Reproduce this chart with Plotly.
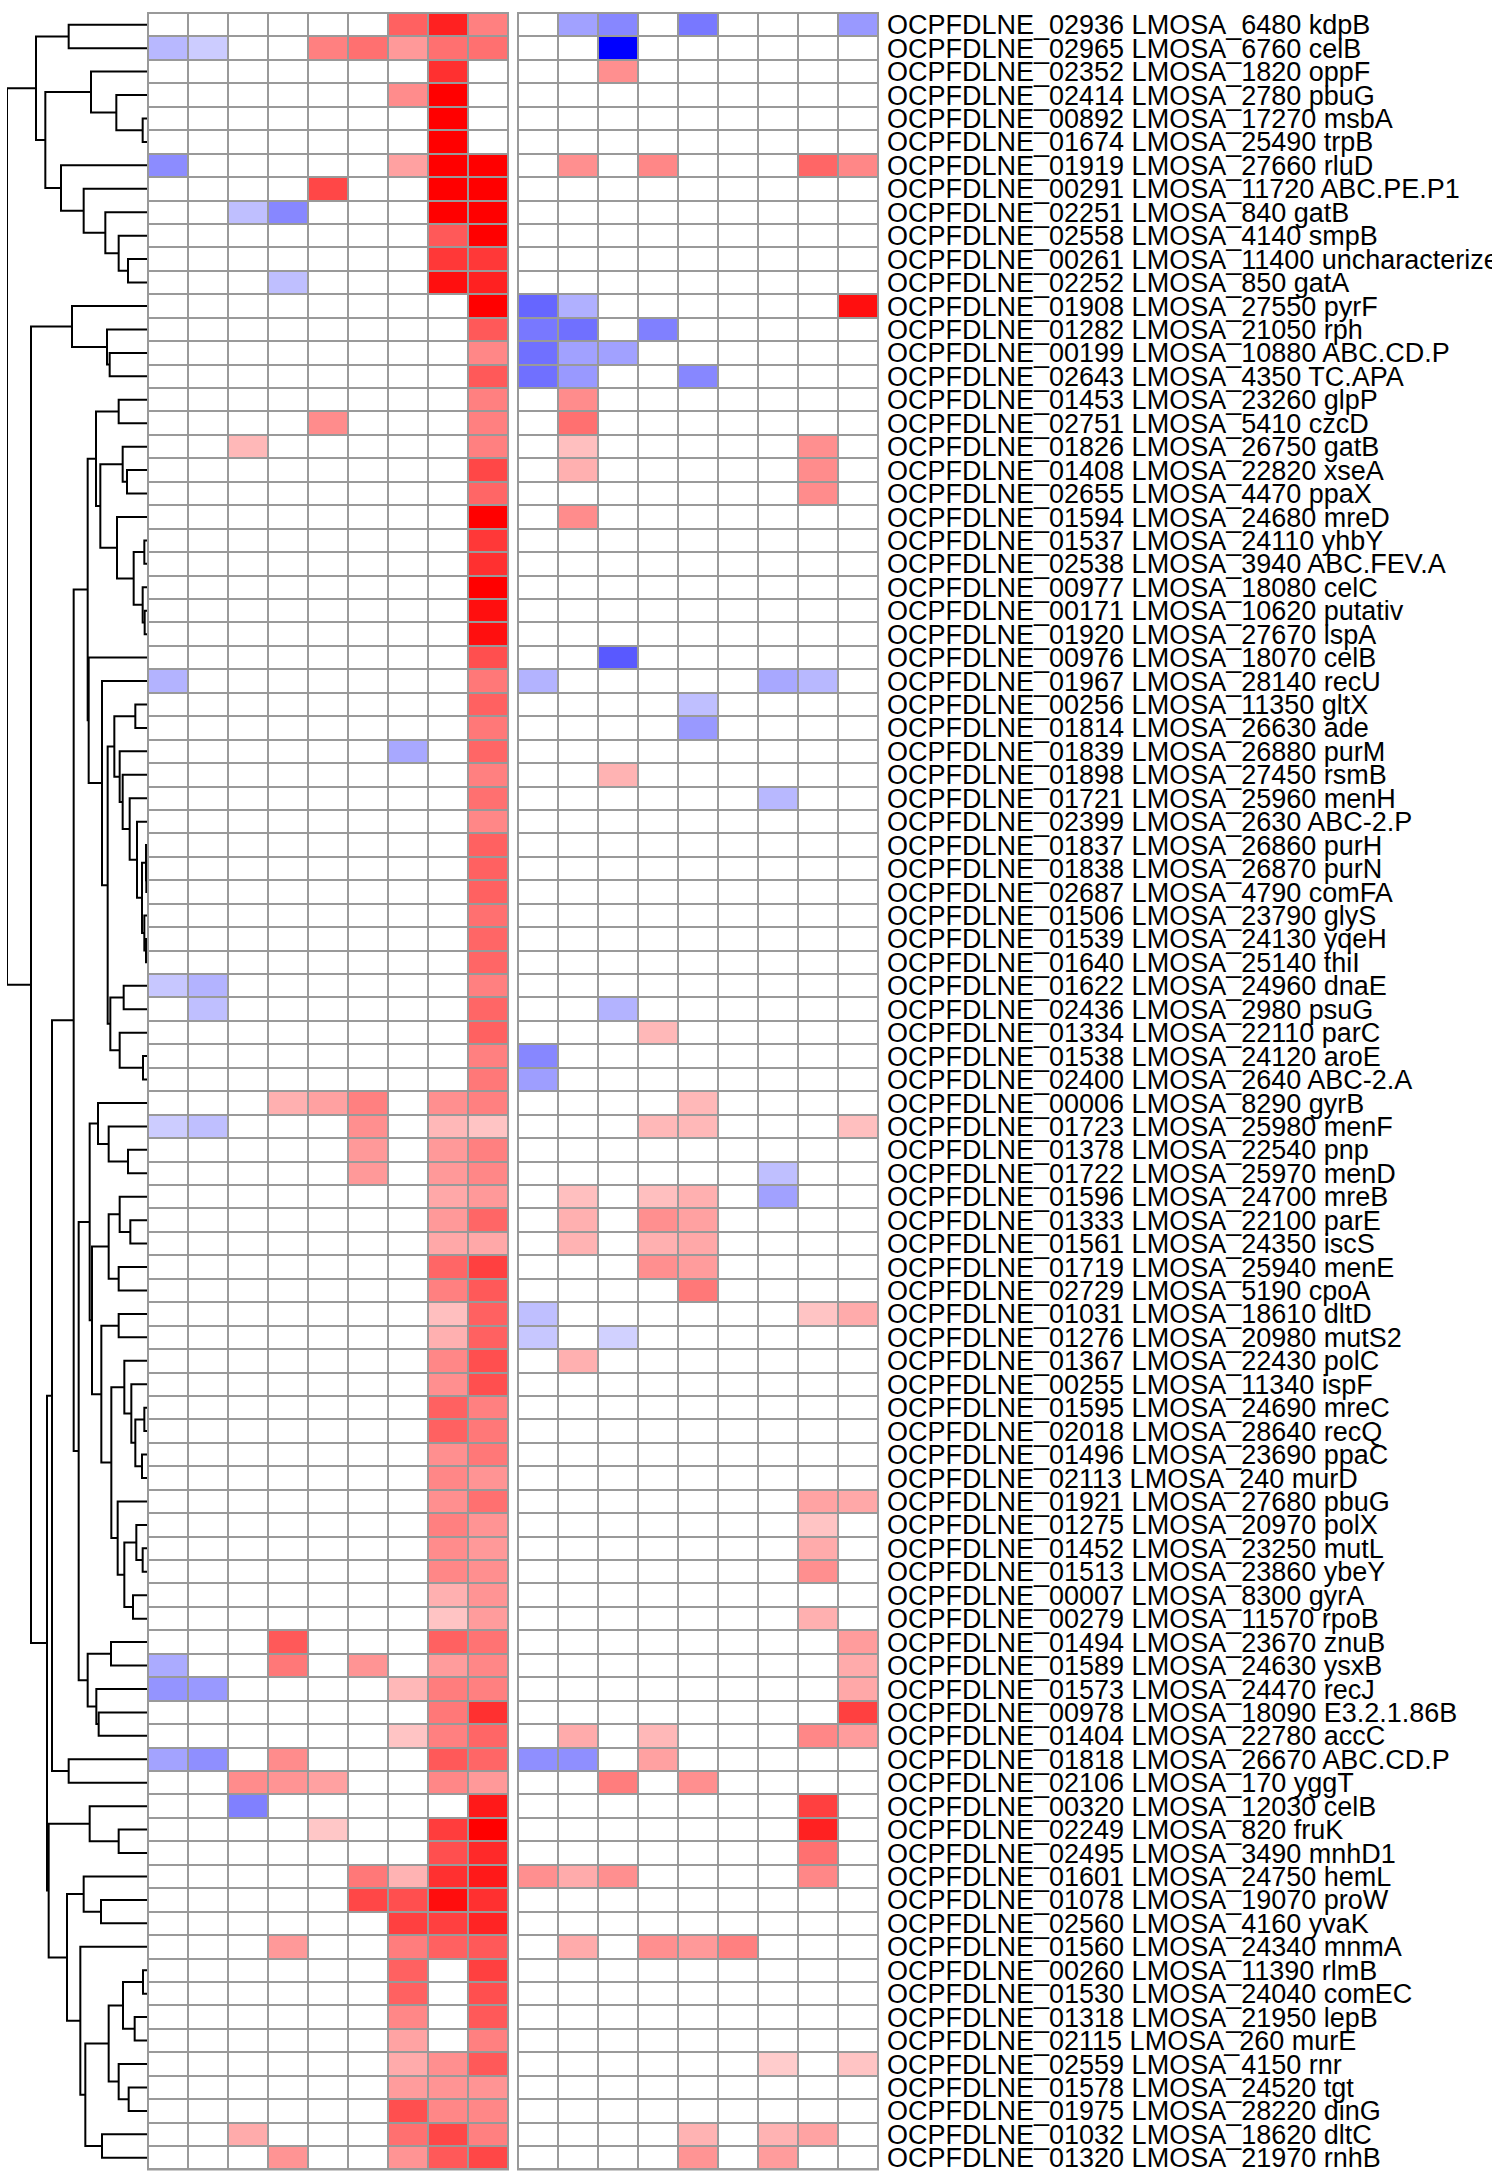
import plotly.graph_objects as go

# ---------------- data ----------------
row_labels = [
    "OCPFDLNE_02936 LMOSA_6480 kdpB", "OCPFDLNE_02965 LMOSA_6760 celB", "OCPFDLNE_02352 LMOSA_1820 oppF",
    "OCPFDLNE_02414 LMOSA_2780 pbuG", "OCPFDLNE_00892 LMOSA_17270 msbA", "OCPFDLNE_01674 LMOSA_25490 trpB",
    "OCPFDLNE_01919 LMOSA_27660 rluD", "OCPFDLNE_00291 LMOSA_11720 ABC.PE.P1", "OCPFDLNE_02251 LMOSA_840 gatB",
    "OCPFDLNE_02558 LMOSA_4140 smpB", "OCPFDLNE_00261 LMOSA_11400 uncharacterized", "OCPFDLNE_02252 LMOSA_850 gatA",
    "OCPFDLNE_01908 LMOSA_27550 pyrF", "OCPFDLNE_01282 LMOSA_21050 rph", "OCPFDLNE_00199 LMOSA_10880 ABC.CD.P",
    "OCPFDLNE_02643 LMOSA_4350 TC.APA", "OCPFDLNE_01453 LMOSA_23260 glpP", "OCPFDLNE_02751 LMOSA_5410 czcD",
    "OCPFDLNE_01826 LMOSA_26750 gatB", "OCPFDLNE_01408 LMOSA_22820 xseA", "OCPFDLNE_02655 LMOSA_4470 ppaX",
    "OCPFDLNE_01594 LMOSA_24680 mreD", "OCPFDLNE_01537 LMOSA_24110 yhbY", "OCPFDLNE_02538 LMOSA_3940 ABC.FEV.A",
    "OCPFDLNE_00977 LMOSA_18080 celC", "OCPFDLNE_00171 LMOSA_10620 putativ", "OCPFDLNE_01920 LMOSA_27670 lspA",
    "OCPFDLNE_00976 LMOSA_18070 celB", "OCPFDLNE_01967 LMOSA_28140 recU", "OCPFDLNE_00256 LMOSA_11350 gltX",
    "OCPFDLNE_01814 LMOSA_26630 ade", "OCPFDLNE_01839 LMOSA_26880 purM", "OCPFDLNE_01898 LMOSA_27450 rsmB",
    "OCPFDLNE_01721 LMOSA_25960 menH", "OCPFDLNE_02399 LMOSA_2630 ABC-2.P", "OCPFDLNE_01837 LMOSA_26860 purH",
    "OCPFDLNE_01838 LMOSA_26870 purN", "OCPFDLNE_02687 LMOSA_4790 comFA", "OCPFDLNE_01506 LMOSA_23790 glyS",
    "OCPFDLNE_01539 LMOSA_24130 yqeH", "OCPFDLNE_01640 LMOSA_25140 thiI", "OCPFDLNE_01622 LMOSA_24960 dnaE",
    "OCPFDLNE_02436 LMOSA_2980 psuG", "OCPFDLNE_01334 LMOSA_22110 parC", "OCPFDLNE_01538 LMOSA_24120 aroE",
    "OCPFDLNE_02400 LMOSA_2640 ABC-2.A", "OCPFDLNE_00006 LMOSA_8290 gyrB", "OCPFDLNE_01723 LMOSA_25980 menF",
    "OCPFDLNE_01378 LMOSA_22540 pnp", "OCPFDLNE_01722 LMOSA_25970 menD", "OCPFDLNE_01596 LMOSA_24700 mreB",
    "OCPFDLNE_01333 LMOSA_22100 parE", "OCPFDLNE_01561 LMOSA_24350 iscS", "OCPFDLNE_01719 LMOSA_25940 menE",
    "OCPFDLNE_02729 LMOSA_5190 cpoA", "OCPFDLNE_01031 LMOSA_18610 dltD", "OCPFDLNE_01276 LMOSA_20980 mutS2",
    "OCPFDLNE_01367 LMOSA_22430 polC", "OCPFDLNE_00255 LMOSA_11340 ispF", "OCPFDLNE_01595 LMOSA_24690 mreC",
    "OCPFDLNE_02018 LMOSA_28640 recQ", "OCPFDLNE_01496 LMOSA_23690 ppaC", "OCPFDLNE_02113 LMOSA_240 murD",
    "OCPFDLNE_01921 LMOSA_27680 pbuG", "OCPFDLNE_01275 LMOSA_20970 polX", "OCPFDLNE_01452 LMOSA_23250 mutL",
    "OCPFDLNE_01513 LMOSA_23860 ybeY", "OCPFDLNE_00007 LMOSA_8300 gyrA", "OCPFDLNE_00279 LMOSA_11570 rpoB",
    "OCPFDLNE_01494 LMOSA_23670 znuB", "OCPFDLNE_01589 LMOSA_24630 ysxB", "OCPFDLNE_01573 LMOSA_24470 recJ",
    "OCPFDLNE_00978 LMOSA_18090 E3.2.1.86B", "OCPFDLNE_01404 LMOSA_22780 accC", "OCPFDLNE_01818 LMOSA_26670 ABC.CD.P",
    "OCPFDLNE_02106 LMOSA_170 yggT", "OCPFDLNE_00320 LMOSA_12030 celB", "OCPFDLNE_02249 LMOSA_820 fruK",
    "OCPFDLNE_02495 LMOSA_3490 mnhD1", "OCPFDLNE_01601 LMOSA_24750 hemL", "OCPFDLNE_01078 LMOSA_19070 proW",
    "OCPFDLNE_02560 LMOSA_4160 yvaK", "OCPFDLNE_01560 LMOSA_24340 mnmA", "OCPFDLNE_00260 LMOSA_11390 rlmB",
    "OCPFDLNE_01530 LMOSA_24040 comEC", "OCPFDLNE_01318 LMOSA_21950 lepB", "OCPFDLNE_02115 LMOSA_260 murE",
    "OCPFDLNE_02559 LMOSA_4150 rnr", "OCPFDLNE_01578 LMOSA_24520 tgt", "OCPFDLNE_01975 LMOSA_28220 dinG",
    "OCPFDLNE_01032 LMOSA_18620 dltC", "OCPFDLNE_01320 LMOSA_21970 rnhB",
]

left_block = [
    [0, 0, 0, 0, 0, 0, .62, .87, .5],
    [-.28, -.2, 0, 0, .5, .56, .4, .56, .56],
    [0, 0, 0, 0, 0, 0, 0, .81, 0],
    [0, 0, 0, 0, 0, 0, .45, 1, 0],
    [0, 0, 0, 0, 0, 0, 0, 1, 0],
    [0, 0, 0, 0, 0, 0, 0, 1, 0],
    [-.45, 0, 0, 0, 0, 0, .37, 1, 1],
    [0, 0, 0, 0, .72, 0, 0, 1, 1],
    [0, 0, -.25, -.47, 0, 0, 0, 1, 1],
    [0, 0, 0, 0, 0, 0, 0, .65, 1],
    [0, 0, 0, 0, 0, 0, 0, .78, .78],
    [0, 0, 0, -.25, 0, 0, 0, .94, .87],
    [0, 0, 0, 0, 0, 0, 0, 0, 1],
    [0, 0, 0, 0, 0, 0, 0, 0, .65],
    [0, 0, 0, 0, 0, 0, 0, 0, .47],
    [0, 0, 0, 0, 0, 0, 0, 0, .65],
    [0, 0, 0, 0, 0, 0, 0, 0, .5],
    [0, 0, 0, 0, .45, 0, 0, 0, .5],
    [0, 0, .28, 0, 0, 0, 0, 0, .5],
    [0, 0, 0, 0, 0, 0, 0, 0, .72],
    [0, 0, 0, 0, 0, 0, 0, 0, .6],
    [0, 0, 0, 0, 0, 0, 0, 0, 1],
    [0, 0, 0, 0, 0, 0, 0, 0, .78],
    [0, 0, 0, 0, 0, 0, 0, 0, .81],
    [0, 0, 0, 0, 0, 0, 0, 0, 1],
    [0, 0, 0, 0, 0, 0, 0, 0, .94],
    [0, 0, 0, 0, 0, 0, 0, 0, .94],
    [0, 0, 0, 0, 0, 0, 0, 0, .69],
    [-.3, 0, 0, 0, 0, 0, 0, 0, .53],
    [0, 0, 0, 0, 0, 0, 0, 0, .62],
    [0, 0, 0, 0, 0, 0, 0, 0, .53],
    [0, 0, 0, 0, 0, 0, -.34, 0, .6],
    [0, 0, 0, 0, 0, 0, 0, 0, .5],
    [0, 0, 0, 0, 0, 0, 0, 0, .56],
    [0, 0, 0, 0, 0, 0, 0, 0, .47],
    [0, 0, 0, 0, 0, 0, 0, 0, .62],
    [0, 0, 0, 0, 0, 0, 0, 0, .62],
    [0, 0, 0, 0, 0, 0, 0, 0, .62],
    [0, 0, 0, 0, 0, 0, 0, 0, .56],
    [0, 0, 0, 0, 0, 0, 0, 0, .6],
    [0, 0, 0, 0, 0, 0, 0, 0, .6],
    [-.22, -.3, 0, 0, 0, 0, 0, 0, .5],
    [0, -.25, 0, 0, 0, 0, 0, 0, .6],
    [0, 0, 0, 0, 0, 0, 0, 0, .62],
    [0, 0, 0, 0, 0, 0, 0, 0, .5],
    [0, 0, 0, 0, 0, 0, 0, 0, .53],
    [0, 0, 0, .31, .37, .5, 0, .44, .5],
    [-.2, -.25, 0, 0, 0, .44, 0, .28, .23],
    [0, 0, 0, 0, 0, .4, 0, .4, .5],
    [0, 0, 0, 0, 0, .4, 0, .4, .47],
    [0, 0, 0, 0, 0, 0, 0, .34, .4],
    [0, 0, 0, 0, 0, 0, 0, .4, .6],
    [0, 0, 0, 0, 0, 0, 0, .34, .34],
    [0, 0, 0, 0, 0, 0, 0, .6, .75],
    [0, 0, 0, 0, 0, 0, 0, .5, .65],
    [0, 0, 0, 0, 0, 0, 0, .25, .62],
    [0, 0, 0, 0, 0, 0, 0, .31, .62],
    [0, 0, 0, 0, 0, 0, 0, .47, .69],
    [0, 0, 0, 0, 0, 0, 0, .44, .69],
    [0, 0, 0, 0, 0, 0, 0, .62, .5],
    [0, 0, 0, 0, 0, 0, 0, .62, .53],
    [0, 0, 0, 0, 0, 0, 0, .44, .53],
    [0, 0, 0, 0, 0, 0, 0, .47, .42],
    [0, 0, 0, 0, 0, 0, 0, .44, .56],
    [0, 0, 0, 0, 0, 0, 0, .5, .42],
    [0, 0, 0, 0, 0, 0, 0, .45, .4],
    [0, 0, 0, 0, 0, 0, 0, .47, .44],
    [0, 0, 0, 0, 0, 0, 0, .31, .42],
    [0, 0, 0, 0, 0, 0, 0, .23, .39],
    [0, 0, 0, .65, 0, 0, 0, .62, .55],
    [-.33, 0, 0, .53, 0, .42, 0, .39, .47],
    [-.42, -.4, 0, 0, 0, 0, .28, .51, .5],
    [0, 0, 0, 0, 0, 0, 0, .53, .81],
    [0, 0, 0, 0, 0, 0, .23, .5, .6],
    [-.36, -.44, 0, .45, 0, 0, 0, .65, .6],
    [0, 0, .45, .42, .37, 0, 0, .47, .4],
    [0, 0, -.5, 0, 0, 0, 0, 0, .9],
    [0, 0, 0, 0, .22, 0, 0, .76, 1],
    [0, 0, 0, 0, 0, 0, 0, .69, .84],
    [0, 0, 0, 0, 0, .53, .3, .81, .9],
    [0, 0, 0, 0, 0, .72, .69, .95, .81],
    [0, 0, 0, 0, 0, 0, .75, .75, .86],
    [0, 0, 0, .4, 0, 0, .51, .62, .65],
    [0, 0, 0, 0, 0, 0, .62, 0, .75],
    [0, 0, 0, 0, 0, 0, .62, 0, .69],
    [0, 0, 0, 0, 0, 0, .47, 0, .65],
    [0, 0, 0, 0, 0, 0, .36, 0, .5],
    [0, 0, 0, 0, 0, 0, .33, .44, .65],
    [0, 0, 0, 0, 0, 0, .39, .42, .42],
    [0, 0, 0, 0, 0, 0, .69, .47, .47],
    [0, 0, .33, 0, 0, 0, .56, .72, .5],
    [0, 0, 0, .42, 0, 0, .42, .65, .72],
]

right_block = [
    [0, -.37, -.47, 0, -.53, 0, 0, 0, -.4],
    [0, 0, -1, 0, 0, 0, 0, 0, 0],
    [0, 0, .44, 0, 0, 0, 0, 0, 0],
    [0, 0, 0, 0, 0, 0, 0, 0, 0],
    [0, 0, 0, 0, 0, 0, 0, 0, 0],
    [0, 0, 0, 0, 0, 0, 0, 0, 0],
    [0, .44, 0, .47, 0, 0, 0, .6, .47],
    [0, 0, 0, 0, 0, 0, 0, 0, 0],
    [0, 0, 0, 0, 0, 0, 0, 0, 0],
    [0, 0, 0, 0, 0, 0, 0, 0, 0],
    [0, 0, 0, 0, 0, 0, 0, 0, 0],
    [0, 0, 0, 0, 0, 0, 0, 0, 0],
    [-.6, -.31, 0, 0, 0, 0, 0, 0, .94],
    [-.53, -.56, 0, -.5, 0, 0, 0, 0, 0],
    [-.56, -.37, -.37, 0, 0, 0, 0, 0, 0],
    [-.56, -.4, 0, 0, -.47, 0, 0, 0, 0],
    [0, .45, 0, 0, 0, 0, 0, 0, 0],
    [0, .56, 0, 0, 0, 0, 0, 0, 0],
    [0, .25, 0, 0, 0, 0, 0, .44, 0],
    [0, .31, 0, 0, 0, 0, 0, .45, 0],
    [0, 0, 0, 0, 0, 0, 0, .45, 0],
    [0, .45, 0, 0, 0, 0, 0, 0, 0],
    [0, 0, 0, 0, 0, 0, 0, 0, 0],
    [0, 0, 0, 0, 0, 0, 0, 0, 0],
    [0, 0, 0, 0, 0, 0, 0, 0, 0],
    [0, 0, 0, 0, 0, 0, 0, 0, 0],
    [0, 0, 0, 0, 0, 0, 0, 0, 0],
    [0, 0, -.65, 0, 0, 0, 0, 0, 0],
    [-.3, 0, 0, 0, 0, 0, -.34, -.28, 0],
    [0, 0, 0, 0, -.25, 0, 0, 0, 0],
    [0, 0, 0, 0, -.4, 0, 0, 0, 0],
    [0, 0, 0, 0, 0, 0, 0, 0, 0],
    [0, 0, .3, 0, 0, 0, 0, 0, 0],
    [0, 0, 0, 0, 0, 0, -.28, 0, 0],
    [0, 0, 0, 0, 0, 0, 0, 0, 0],
    [0, 0, 0, 0, 0, 0, 0, 0, 0],
    [0, 0, 0, 0, 0, 0, 0, 0, 0],
    [0, 0, 0, 0, 0, 0, 0, 0, 0],
    [0, 0, 0, 0, 0, 0, 0, 0, 0],
    [0, 0, 0, 0, 0, 0, 0, 0, 0],
    [0, 0, 0, 0, 0, 0, 0, 0, 0],
    [0, 0, 0, 0, 0, 0, 0, 0, 0],
    [0, 0, -.3, 0, 0, 0, 0, 0, 0],
    [0, 0, 0, .28, 0, 0, 0, 0, 0],
    [-.47, 0, 0, 0, 0, 0, 0, 0, 0],
    [-.38, 0, 0, 0, 0, 0, 0, 0, 0],
    [0, 0, 0, 0, .28, 0, 0, 0, 0],
    [0, 0, 0, .28, .28, 0, 0, 0, .25],
    [0, 0, 0, 0, 0, 0, 0, 0, 0],
    [0, 0, 0, 0, 0, 0, -.25, 0, 0],
    [0, .25, 0, .25, .31, 0, -.37, 0, 0],
    [0, .31, 0, .44, .37, 0, 0, 0, 0],
    [0, .3, 0, .31, .34, 0, 0, 0, 0],
    [0, 0, 0, .44, .39, 0, 0, 0, 0],
    [0, 0, 0, 0, .53, 0, 0, 0, 0],
    [-.25, 0, 0, 0, 0, 0, 0, .23, .33],
    [-.22, 0, -.18, 0, 0, 0, 0, 0, 0],
    [0, .31, 0, 0, 0, 0, 0, 0, 0],
    [0, 0, 0, 0, 0, 0, 0, 0, 0],
    [0, 0, 0, 0, 0, 0, 0, 0, 0],
    [0, 0, 0, 0, 0, 0, 0, 0, 0],
    [0, 0, 0, 0, 0, 0, 0, 0, 0],
    [0, 0, 0, 0, 0, 0, 0, 0, 0],
    [0, 0, 0, 0, 0, 0, 0, .36, .34],
    [0, 0, 0, 0, 0, 0, 0, .23, 0],
    [0, 0, 0, 0, 0, 0, 0, .33, 0],
    [0, 0, 0, 0, 0, 0, 0, .44, 0],
    [0, 0, 0, 0, 0, 0, 0, 0, 0],
    [0, 0, 0, 0, 0, 0, 0, .31, 0],
    [0, 0, 0, 0, 0, 0, 0, 0, .39],
    [0, 0, 0, 0, 0, 0, 0, 0, .33],
    [0, 0, 0, 0, 0, 0, 0, 0, .34],
    [0, 0, 0, 0, 0, 0, 0, 0, .75],
    [0, .33, 0, .28, 0, 0, 0, .47, .39],
    [-.44, -.44, 0, .37, 0, 0, 0, 0, 0],
    [0, 0, .51, 0, .44, 0, 0, 0, 0],
    [0, 0, 0, 0, 0, 0, 0, .75, 0],
    [0, 0, 0, 0, 0, 0, 0, .87, 0],
    [0, 0, 0, 0, 0, 0, 0, .56, 0],
    [.44, .33, .44, 0, 0, 0, 0, .47, 0],
    [0, 0, 0, 0, 0, 0, 0, 0, 0],
    [0, 0, 0, 0, 0, 0, 0, 0, 0],
    [0, .33, 0, .44, .4, .5, 0, 0, 0],
    [0, 0, 0, 0, 0, 0, 0, 0, 0],
    [0, 0, 0, 0, 0, 0, 0, 0, 0],
    [0, 0, 0, 0, 0, 0, 0, 0, 0],
    [0, 0, 0, 0, 0, 0, 0, 0, 0],
    [0, 0, 0, 0, 0, 0, .2, 0, .23],
    [0, 0, 0, 0, 0, 0, 0, 0, 0],
    [0, 0, 0, 0, 0, 0, 0, 0, 0],
    [0, 0, 0, 0, .3, 0, .3, .36, 0],
    [0, 0, 0, 0, .42, 0, .39, 0, 0],
]

# row dendrogram: leaf = row number (1-based), node = (left, right, merge height)
tree_top = ((1, 2, 235),
            ((3, (4, (5, 6, 13), 92), 168),
             (7, (8, (9, (10, (11, 12, 57), 85), 125), 190), 258), 305), 333)
tree_13_16 = (13, (14, (15, 16, 112), 120), 225)
tree_17_27 = ((17, 18, 85),
              ((19, (20, 21, 60), 73),
               (22, ((23, 24, 8), (25, (26, 27, 7), 13), 40), 90), 140), 153)
tree_30_41 = ((30, 31, 35),
              (32, (33, (34, (35, ((36, (37, 38, 2), 3), (39, (40, 41, 3), 8), 15), 30), 52), 73), 82), 98)
tree_42_46 = ((42, 43, 70), (44, (45, 46, 12), 82), 110)
tree_17_46 = (tree_17_27, (28, (29, (tree_30_41, tree_42_46, 118), 135), 175), 178)
tree_47_69 = ((47, (48, (49, 50, 57), 115), 147),
              (((51, (52, 53, 50), 82), (54, 55, 85), 115),
               ((56, 57, 85),
                ((58, (59, ((60, 61, 8), (62, 63, 15), 35), 47), 68),
                 (64, ((65, (66, 67, 13), 32), (68, 69, 42), 68), 88), 107), 137), 165), 172)
tree_70_74 = ((70, 71, 108), (72, (73, 74, 145), 152), 178)
tree_17_76 = (((tree_17_46, (tree_47_69, tree_70_74, 205), 220)), (75, 76, 235), 285)
tree_77_92 = ((77, (78, 79, 85), 172),
              ((80, (81, 82, 138), 190),
               (83, ((((84, 85, 12), (86, 87, 37), 72), (88, (89, 90, 55), 85), 115), (91, 92, 135), 185), 200),
               240), 295)
row_tree = (tree_top, (tree_13_16, (tree_17_76, tree_77_92, 300), 348), 420)

# ---------------- geometry ----------------
W, H = 1492, 2171
ROW_H = 23.44
TOP_PX = 13
COL_W = 40
LABEL_SHIFT = 0.12
n_rows = len(row_labels)

def xdom(px0, px1):
    return [px0 / W, px1 / W]

pad_x = 1 / COL_W
pad_y = 1 / ROW_H
y_top = -0.5 - pad_y
y_bot = y_top + (H - (TOP_PX - 1)) / ROW_H

# dendrogram segments
dx, dy = [], []

def walk(node):
    if isinstance(node, int):
        return node - 1, 0.0
    a, b, h = node
    ya, ha = walk(a)
    yb, hb = walk(b)
    dx.extend([ha, h, h, hb, None])
    dy.extend([ya, ya, yb, yb, None])
    return (ya + yb) / 2, h

root_y, root_h = walk(row_tree)

colorscale = [[0.0, "#0000FF"], [0.5, "#FFFFFF"], [1.0, "#FF0000"]]
cols = list(range(9))
rows = list(range(n_rows))

fig = go.Figure()
fig.add_trace(go.Scatter(x=dx, y=dy, mode="lines", line=dict(color="black", width=2),
                         xaxis="x3", yaxis="y", hoverinfo="skip", showlegend=False))
fig.add_trace(go.Heatmap(z=left_block, x=cols, y=rows, colorscale=colorscale, zmin=-1, zmax=1,
                         showscale=False, xgap=2, ygap=2, xaxis="x", yaxis="y", hoverinfo="skip"))
fig.add_trace(go.Heatmap(z=right_block, x=cols, y=rows, colorscale=colorscale, zmin=-1, zmax=1,
                         showscale=False, xgap=2, ygap=2, xaxis="x2", yaxis="y", hoverinfo="skip"))
fig.add_trace(go.Scatter(x=[0] * n_rows, y=[r + LABEL_SHIFT for r in rows], mode="text", text=row_labels,
                         textposition="middle right", cliponaxis=False,
                         textfont=dict(family="Liberation Sans, Arial, Helvetica", size=27, color="black"),
                         xaxis="x4", yaxis="y", hoverinfo="skip", showlegend=False))

hidden = dict(visible=False, showgrid=False, zeroline=False, fixedrange=True)
fig.update_layout(
    width=W, height=H, margin=dict(l=0, r=0, t=0, b=0),
    paper_bgcolor="white", plot_bgcolor="rgba(0,0,0,0)", showlegend=False,
    xaxis=dict(domain=xdom(147, 509), range=[-0.5 - pad_x, 8.5 + pad_x], anchor="y", **hidden),
    xaxis2=dict(domain=xdom(517, 879), range=[-0.5 - pad_x, 8.5 + pad_x], anchor="y", **hidden),
    xaxis3=dict(domain=xdom(7, 147), range=[root_h, 0], anchor="y", **hidden),
    xaxis4=dict(domain=xdom(887, W), range=[0, 1], anchor="y", **hidden),
    yaxis=dict(domain=[0, 1 - (TOP_PX - 1) / H], range=[y_bot, y_top], **hidden),
    shapes=[
        dict(type="rect", xref="x", yref="y", x0=-0.5 - pad_x, x1=8.5 + pad_x,
             y0=y_top, y1=n_rows - 0.5 + pad_y, fillcolor="#999999", line=dict(width=0), layer="below"),
        dict(type="rect", xref="x2", yref="y", x0=-0.5 - pad_x, x1=8.5 + pad_x,
             y0=y_top, y1=n_rows - 0.5 + pad_y, fillcolor="#999999", line=dict(width=0), layer="below"),
    ],
)

fig.write_html("out.html", config={"displayModeBar": False},
               post_script="document.body.style.margin='0';document.body.style.overflow='hidden';")
